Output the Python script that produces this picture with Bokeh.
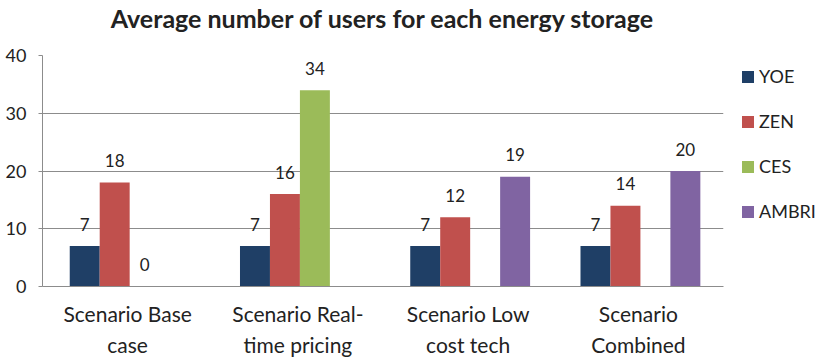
import math
from bokeh.plotting import figure
from bokeh.models import FactorRange, ColumnDataSource, Legend, LegendItem, FixedTicker, Range1d, Title
from bokeh.transform import dodge
from bokeh.core.properties import value
from bokeh.embed import file_html
from bokeh.resources import INLINE

categories = ["Scenario Base\ncase", "Scenario Real-\ntime pricing", "Scenario Low\ncost tech", "Scenario\nCombined"]
series_names = ["YOE", "ZEN", "CES", "AMBRI"]
yoe = [7, 7, 7, 7]
zen = [18, 16, 12, 14]
ces = [0, 34, float("nan"), float("nan")]
ambri = [float("nan"), float("nan"), 19, 20]
y_ticks = [0, 10, 20, 30, 40]

colors = ["#1F3F66", "#C0504D", "#9BBB59", "#8064A2"]
FONT = "Lato"
TEXT = "#222222"

p = figure(x_range=FactorRange(*categories), y_range=Range1d(0, 40),
           frame_width=681, frame_height=231, output_backend="svg", toolbar_location=None,
           title="Average number of users for each energy storage",
           min_border_left=42, min_border_right=0, min_border_top=0, min_border_bottom=0)

src = ColumnDataSource(dict(cat=categories, YOE=yoe, ZEN=zen, CES=ces, AMBRI=ambri,
                            YOE_t=[str(v) for v in yoe], ZEN_t=[str(v) for v in zen],
                            CES_t=["" if math.isnan(v) else str(int(v)) for v in ces],
                            AMBRI_t=["" if math.isnan(v) else str(int(v)) for v in ambri]))

w = 0.176
offsets = [-1.5 * w, -0.5 * w, 0.5 * w, 1.5 * w]
renderers = []
for name, off, col in zip(series_names, offsets, colors):
    r = p.vbar(x=dodge("cat", off + 0.012, range=p.x_range), top=name, width=w, source=src,
               fill_color=col, line_color=None)
    renderers.append(r)
    p.text(x=dodge("cat", off + 0.012, range=p.x_range), y=name, text=name + "_t", source=src,
           text_align="center", text_baseline="middle", y_offset=-22,
           text_font=value(FONT), text_font_size="17px", text_color=TEXT)

legend = Legend(items=[LegendItem(label=n, renderers=[r]) for n, r in zip(series_names, renderers)],
                location=(17, 64))
legend.label_text_font = FONT
legend.label_text_font_size = "18px"
legend.label_text_color = TEXT
legend.glyph_width = 15
legend.glyph_height = 15
legend.label_standoff = 4
legend.label_height = 20
legend.spacing = 23
legend.padding = 0
legend.margin = 0
legend.border_line_color = None
legend.background_fill_alpha = 0
p.add_layout(legend, "right")

# spacer between the title and the plot frame
p.add_layout(Title(text=" ", text_font_size="1px", standoff=20), "above")

p.title.text_font = FONT
p.title.text_font_size = "25px"
p.title.text_font_style = "bold"
p.title.text_color = TEXT
p.title.align = "center"
p.title.standoff = 0
p.title.offset = 9
p.title.text_line_height = 0.8

p.outline_line_color = None
p.xgrid.grid_line_color = None
p.ygrid.grid_line_color = "#8C8C8C"
p.ygrid.ticker = FixedTicker(ticks=y_ticks)
p.yaxis.ticker = FixedTicker(ticks=y_ticks)
p.yaxis.axis_line_color = "#8C8C8C"
p.yaxis.major_tick_line_color = "#8C8C8C"
p.yaxis.major_tick_out = 4
p.yaxis.major_tick_in = 0
p.yaxis.minor_tick_line_color = None
p.yaxis.major_label_standoff = 12
p.xaxis.axis_line_color = "#8C8C8C"
p.xaxis.major_tick_line_color = None
p.xaxis.minor_tick_line_color = None
p.xaxis.major_label_standoff = 8
for ax in (p.xaxis, p.yaxis):
    ax.major_label_text_font = FONT
    ax.major_label_text_color = TEXT
p.yaxis.major_label_text_font_size = "18px"
p.xaxis.major_label_text_font_size = "21px"
p.xaxis.major_label_text_line_height = 1.25

open("out.html", "w").write(file_html(p, INLINE))
